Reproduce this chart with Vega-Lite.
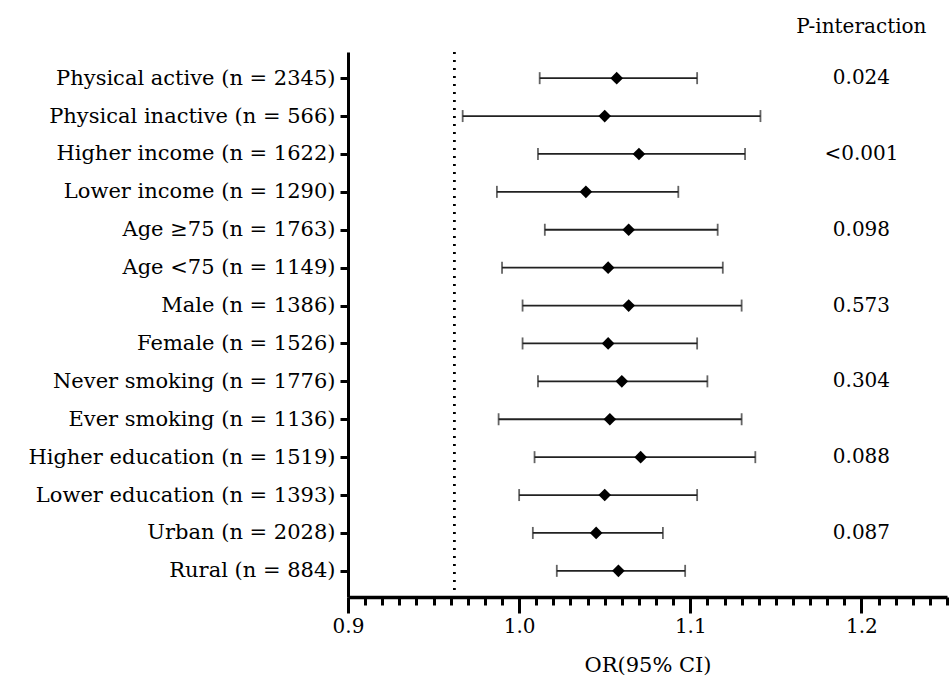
{
  "$schema": "https://vega.github.io/schema/vega-lite/v6.json",
  "autosize": {"type": "none"},
  "padding": {"left": 348, "top": 52, "right": 4, "bottom": 85},
  "width": 599,
  "height": 545,
  "config": {"view": {"stroke": null}, "font": "DejaVu Serif"},
  "title": {"text": "P-interaction", "anchor": "end", "dx": -22, "offset": 14, "font": "DejaVu Serif", "fontSize": 20, "fontWeight": "normal", "color": "#000"},
  "data": {"values": [
    {"label": "Physical active (n = 2345)", "lo": 1.012, "or": 1.057, "hi": 1.104, "p": "0.024"},
    {"label": "Physical inactive (n = 566)", "lo": 0.967, "or": 1.050, "hi": 1.141, "p": ""},
    {"label": "Higher income (n = 1622)", "lo": 1.011, "or": 1.070, "hi": 1.132, "p": "<0.001"},
    {"label": "Lower income (n = 1290)", "lo": 0.987, "or": 1.039, "hi": 1.093, "p": ""},
    {"label": "Age ≥75 (n = 1763)", "lo": 1.015, "or": 1.064, "hi": 1.116, "p": "0.098"},
    {"label": "Age <75 (n = 1149)", "lo": 0.990, "or": 1.052, "hi": 1.119, "p": ""},
    {"label": "Male (n = 1386)", "lo": 1.002, "or": 1.064, "hi": 1.130, "p": "0.573"},
    {"label": "Female (n = 1526)", "lo": 1.002, "or": 1.052, "hi": 1.104, "p": ""},
    {"label": "Never smoking (n = 1776)", "lo": 1.011, "or": 1.060, "hi": 1.110, "p": "0.304"},
    {"label": "Ever smoking (n = 1136)", "lo": 0.988, "or": 1.053, "hi": 1.130, "p": ""},
    {"label": "Higher education (n = 1519)", "lo": 1.009, "or": 1.071, "hi": 1.138, "p": "0.088"},
    {"label": "Lower education (n = 1393)", "lo": 1.000, "or": 1.050, "hi": 1.104, "p": ""},
    {"label": "Urban (n = 2028)", "lo": 1.008, "or": 1.045, "hi": 1.084, "p": "0.087"},
    {"label": "Rural (n = 884)", "lo": 1.022, "or": 1.058, "hi": 1.097, "p": ""}
  ]},
  "encoding": {
    "y": {"field": "label", "type": "nominal", "sort": null,
      "scale": {"type": "point", "padding": 0.69},
      "axis": {"title": null, "domainColor": "#000", "domainWidth": 3, "tickColor": "#000", "tickWidth": 3, "tickSize": 8, "labelFont": "DejaVu Serif", "labelFontSize": 21, "labelColor": "#000", "labelPadding": 5, "labelLimit": 400}}
  },
  "layer": [
    {
      "mark": {"type": "rule", "color": "#000", "strokeWidth": 2, "strokeDash": [2, 6]},
      "encoding": {"x": {"datum": 0.962, "type": "quantitative"}, "y": null}
    },
    {
      "mark": {"type": "rule", "color": "#222", "strokeWidth": 1.8},
      "encoding": {
        "x": {"field": "lo", "type": "quantitative",
          "scale": {"domain": [0.9, 1.25], "nice": false, "zero": false},
          "axis": {"title": "OR(95% CI)", "titleFont": "DejaVu Serif", "titleFontSize": 21, "titleFontWeight": "normal", "titleColor": "#000", "titlePadding": 18,
            "tickCount": 200,
            "values": [0.9,0.91,0.92,0.93,0.94,0.95,0.96,0.97,0.98,0.99,1.0,1.01,1.02,1.03,1.04,1.05,1.06,1.07,1.08,1.09,1.1,1.11,1.12,1.13,1.14,1.15,1.16,1.17,1.18,1.19,1.2,1.21,1.22,1.23,1.24,1.25],
            "labelExpr": "abs(datum.value*10 - round(datum.value*10)) < 0.001 ? format(datum.value, '.1f') : ''",
            "labelOverlap": false, "labelBound": false, "labelFlush": false,
            "domainColor": "#000", "domainWidth": 3.5, "tickColor": "#000", "tickWidth": 3,
            "tickSize": {"condition": {"test": "abs(datum.value*10 - round(datum.value*10)) < 0.001", "value": 16}, "value": 8},
            "labelFont": "DejaVu Serif", "labelFontSize": 20, "labelColor": "#000", "labelPadding": 3}},
        "x2": {"field": "hi"}
      }
    },
    {
      "mark": {"type": "tick", "color": "#222", "thickness": 1.8, "size": 12},
      "encoding": {"x": {"field": "lo", "type": "quantitative"}}
    },
    {
      "mark": {"type": "tick", "color": "#222", "thickness": 1.8, "size": 12},
      "encoding": {"x": {"field": "hi", "type": "quantitative"}}
    },
    {
      "mark": {"type": "point", "shape": "diamond", "filled": true, "color": "#000", "size": 160, "opacity": 1},
      "encoding": {"x": {"field": "or", "type": "quantitative"}}
    },
    {
      "mark": {"type": "text", "font": "DejaVu Serif", "fontSize": 20, "color": "#000", "align": "center", "baseline": "middle"},
      "encoding": {"x": {"datum": 1.2, "type": "quantitative"}, "text": {"field": "p"}}
    }
  ]
}
